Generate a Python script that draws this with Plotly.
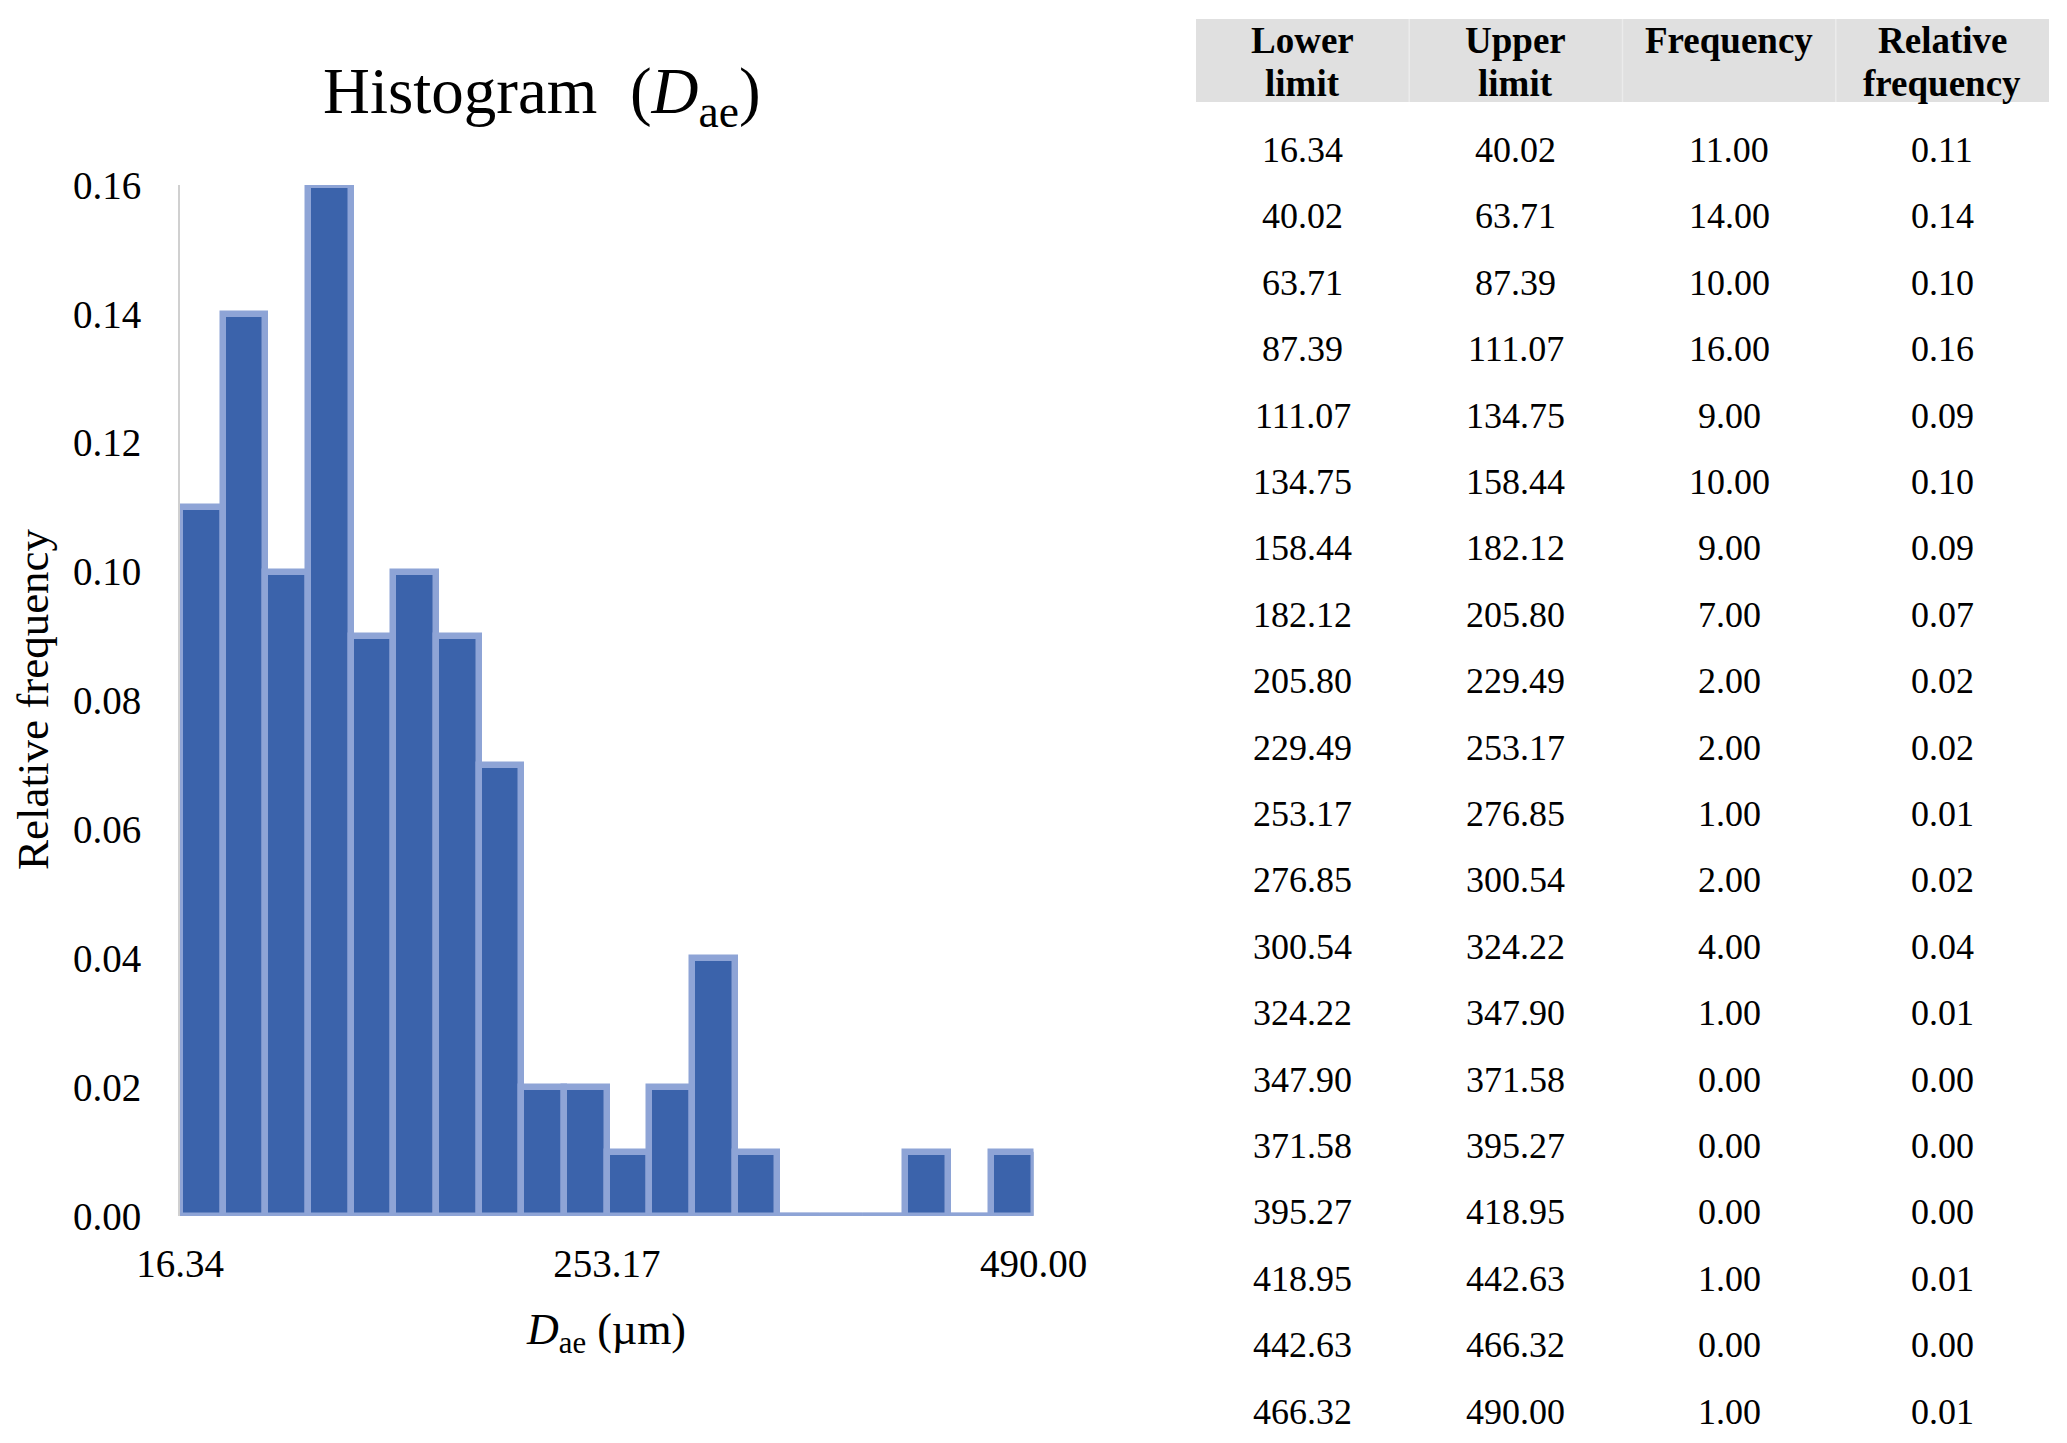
import plotly.graph_objects as go

# ---- data ----
lower = [16.34, 40.02, 63.71, 87.39, 111.07, 134.75, 158.44, 182.12, 205.80, 229.49,
         253.17, 276.85, 300.54, 324.22, 347.90, 371.58, 395.27, 418.95, 442.63, 466.32]
upper = [40.02, 63.71, 87.39, 111.07, 134.75, 158.44, 182.12, 205.80, 229.49, 253.17,
         276.85, 300.54, 324.22, 347.90, 371.58, 395.27, 418.95, 442.63, 466.32, 490.00]
frequency = [11, 14, 10, 16, 9, 10, 9, 7, 2, 2, 1, 2, 4, 1, 0, 0, 0, 1, 0, 1]
rel_freq = [0.11, 0.14, 0.10, 0.16, 0.09, 0.10, 0.09, 0.07, 0.02, 0.02,
            0.01, 0.02, 0.04, 0.01, 0.00, 0.00, 0.00, 0.01, 0.00, 0.01]
x_ticks = [16.34, 253.17, 490.00]
y_ticks = [0.00, 0.02, 0.04, 0.06, 0.08, 0.10, 0.12, 0.14, 0.16]
header_lines = [("Lower", "limit"), ("Upper", "limit"), ("Frequency", ""), ("Relative", "frequency")]

# ---- style / layout constants (page pixels) ----
PAGE_OFF = 8                     # default body margin of the html page
W, H = 2067 - PAGE_OFF, 1443 - PAGE_OFF
FONT = "Liberation Serif"
FILL = "#3B63AB"
EDGE = "#8EA4D6"
PX0, PX1 = 180, 1033.5          # plot area left/right
PY_TOP, PY_BOT = 185, 1216      # plot area top/bottom
TB_X0, TB_X1 = 1196, 2049       # table left/right
HD_Y0, HD_Y1 = 19, 102          # header band
HD_LINE_Y = [41, 83]            # header text line centres
ROW_Y0, ROW_DY = 150, 66.4      # first body row centre, row pitch


def px(x):
    return (x - PAGE_OFF) / W


def py(y):
    return 1 - (y - PAGE_OFF) / H


centers = [(a + b) / 2 for a, b in zip(lower, upper)]
widths = [b - a for a, b in zip(lower, upper)]

fig = go.Figure()
fig.add_trace(go.Bar(
    x=centers, y=rel_freq, width=widths,
    marker=dict(color=FILL, line=dict(color=EDGE, width=6.5)),
    cliponaxis=False, showlegend=False, hoverinfo="skip",
))
# empty bins: outline only along the baseline
for a, b, v in zip(lower, upper, rel_freq):
    if v == 0:
        fig.add_trace(go.Scatter(
            x=[a, b], y=[v, v], mode="lines", cliponaxis=False,
            line=dict(color=EDGE, width=6.5), showlegend=False, hoverinfo="skip",
        ))

# ---- table (header band + cell texts) ----
ncol = len(header_lines)
col_w = (TB_X1 - TB_X0) / ncol
col_cx = [TB_X0 + col_w * (i + 0.5) for i in range(ncol)]

shapes = [dict(type="rect", xref="paper", yref="paper",
               x0=px(TB_X0), x1=px(TB_X1), y0=py(HD_Y1), y1=py(HD_Y0),
               fillcolor="#E0E0E0", line=dict(width=0), layer="below")]
for i in range(1, ncol):
    xs = TB_X0 + col_w * i
    shapes.append(dict(type="line", xref="paper", yref="paper",
                       x0=px(xs), x1=px(xs), y0=py(HD_Y1), y1=py(HD_Y0),
                       line=dict(color="#EBEBEB", width=1.5), layer="below"))

annotations = []
for cx, lines in zip(col_cx, header_lines):
    for ly, txt in zip(HD_LINE_Y, lines):
        if txt:
            annotations.append(dict(
                text=f"<b>{txt}</b>", x=px(cx), y=py(ly), xref="paper", yref="paper",
                showarrow=False, xanchor="center", yanchor="middle",
                font=dict(family=FONT, size=37, color="black")))

columns = [[f"{v:.2f}" for v in lower],
           [f"{v:.2f}" for v in upper],
           [f"{v:.2f}" for v in frequency],
           [f"{v:.2f}" for v in rel_freq]]
for cx, col in zip(col_cx, columns):
    for r, txt in enumerate(col):
        annotations.append(dict(
            text=txt, x=px(cx), y=py(ROW_Y0 + ROW_DY * r), xref="paper", yref="paper",
            showarrow=False, xanchor="center", yanchor="middle",
            font=dict(family=FONT, size=36, color="black")))

annotations += [
    dict(text="Histogram  (<i>D</i><sub>ae</sub>)", x=px(542), y=py(96),
         xref="paper", yref="paper", showarrow=False,
         font=dict(family=FONT, size=65), xanchor="center", yanchor="middle"),
    dict(text="Relative frequency", x=px(33), y=py(699),
         xref="paper", yref="paper", showarrow=False, textangle=-90,
         font=dict(family=FONT, size=45), xanchor="center", yanchor="middle"),
    dict(text="<i>D</i><sub>ae</sub> (µm)", x=px(606), y=py(1332),
         xref="paper", yref="paper", showarrow=False,
         font=dict(family=FONT, size=44), xanchor="center", yanchor="middle"),
]

fig.update_layout(
    width=W, height=H,
    margin=dict(l=0, r=0, t=0, b=0),
    paper_bgcolor="white", plot_bgcolor="white",
    bargap=0,
    font=dict(family=FONT, size=38, color="black"),
    xaxis=dict(
        domain=[px(PX0), px(PX1)], range=[16.34, 490.0],
        tickvals=x_ticks, ticktext=[f"{v:.2f}" for v in x_ticks],
        showgrid=False, zeroline=False, showline=False, ticks="",
        ticklabelstandoff=21, automargin=False,
        tickfont=dict(family=FONT, size=39),
    ),
    yaxis=dict(
        domain=[py(PY_BOT), py(PY_TOP)], range=[0, 0.16],
        tickvals=y_ticks, tickformat=".2f",
        showgrid=False, zeroline=False, showline=True,
        linecolor="#D0D0D0", linewidth=2, ticks="",
        ticklabelstandoff=29, automargin=False,
        tickfont=dict(family=FONT, size=39),
    ),
    shapes=shapes,
    annotations=annotations,
)

fig.write_html("out.html")
